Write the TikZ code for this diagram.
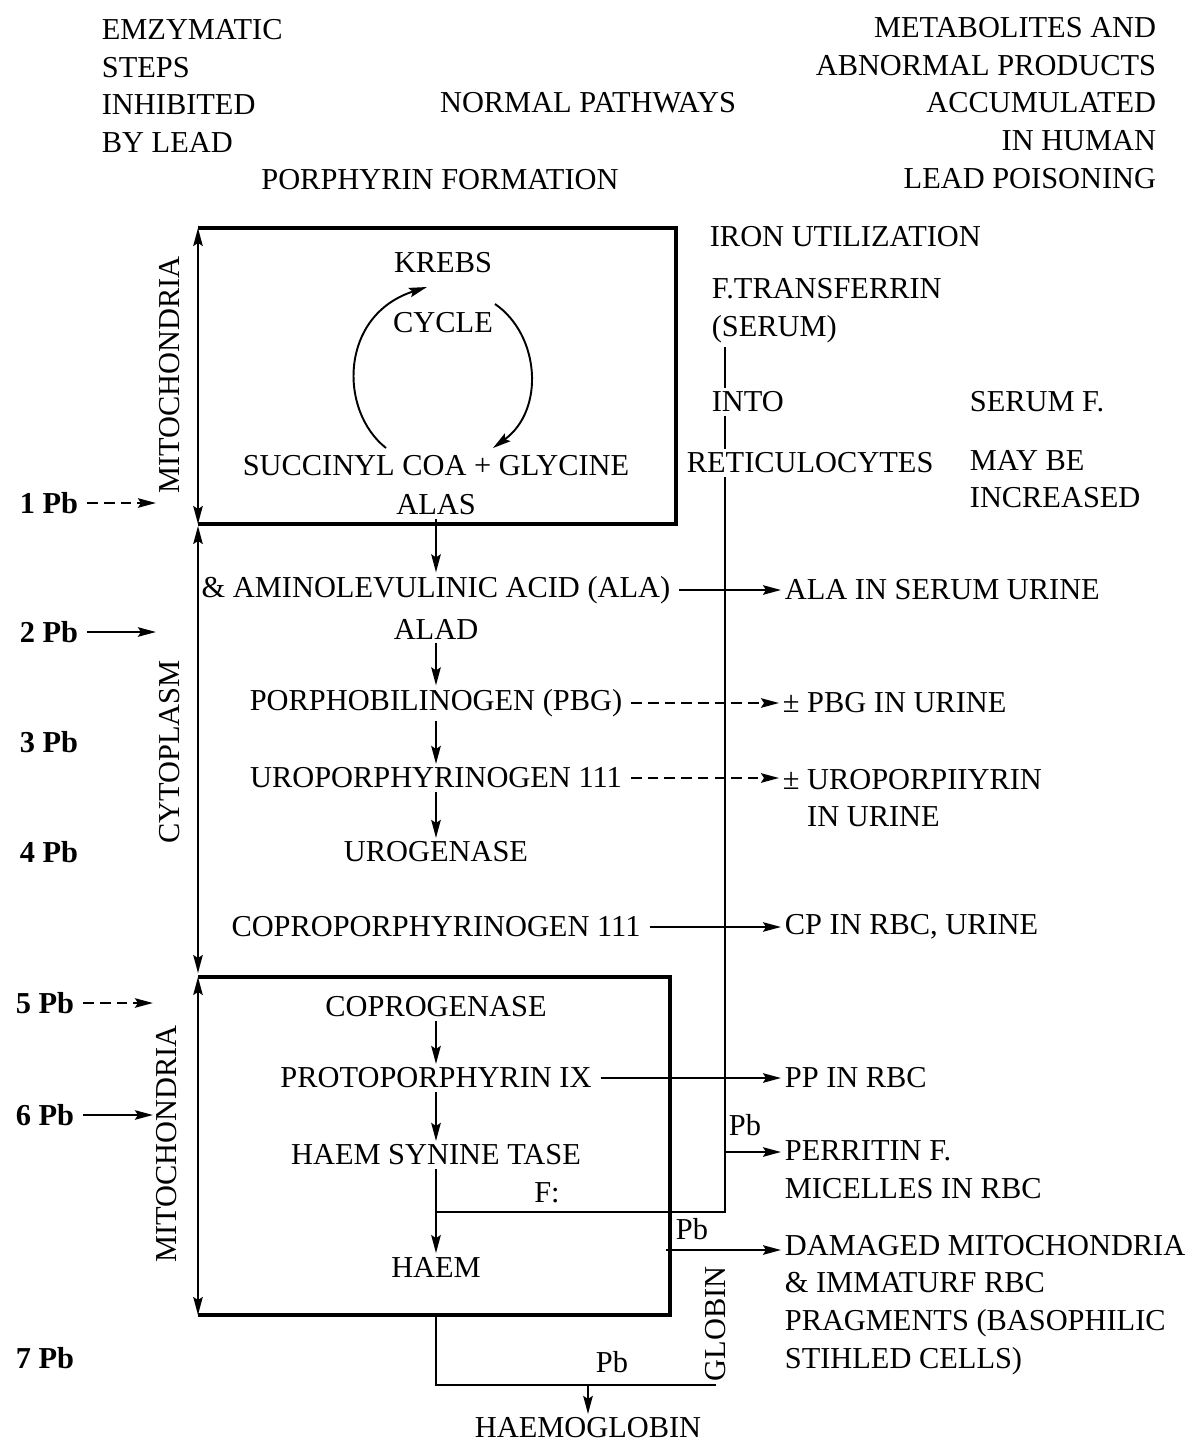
\documentclass[tikz,border=0pt]{standalone}
\usepackage{fontspec}
\setmainfont{Liberation Serif}
\usetikzlibrary{arrows.meta,positioning,calc}

\begin{document}
\begin{tikzpicture}[
  x=0.02cm, y=-0.02cm,
  font=\fontsize{17.3}{21.5}\selectfont,
  every node/.style={inner sep=2pt},
  lbl/.style={anchor=west,align=left},
  rlbl/.style={anchor=east,align=right},
  side/.style={rotate=90},
  pb/.style={anchor=west,font=\fontsize{17.3}{21.5}\selectfont\bfseries},
  wall/.style={line width=1.9pt},
  link/.style={line width=1.1pt},
  arr/.style={link,-{Stealth[length=3.6mm,width=1.9mm,inset=0.6mm]}},
  darr/.style={arr,dash pattern=on 6pt off 3.5pt},
  span/.style={line width=1pt,
               {Stealth[length=3.6mm,width=1.9mm,inset=0.6mm]}-{Stealth[length=3.6mm,width=1.9mm,inset=0.6mm]}}
]
\def\midX{436}
\def\outX{781}
\useasboundingbox (0,0) rectangle (1188,1443);

% --- Headings
\node[lbl]  (enz)   at (98,86)    {EMZYMATIC\\STEPS\\INHIBITED\\BY LEAD};
\node       (norm)  at (588,103)  {NORMAL PATHWAYS};
\node       (pform) at (440,180)  {PORPHYRIN FORMATION};
\node[rlbl] (metab) at (1160,103) {METABOLITES AND\\ABNORMAL PRODUCTS\\ACCUMULATED\\IN HUMAN\\LEAD POISONING};

% --- Top mitochondrion
\coordinate (mAnw) at (198,228);
\coordinate (mAse) at (676,524);
\draw[wall] (mAnw) -- (mAnw -| mAse) -- (mAse) -- (mAse -| mAnw);
\draw[span] (mAnw) -- (mAnw |- mAse);
\node[side] (mitoA) at (170,375) {MITOCHONDRIA};

\node (krebs) at (443,263) {KREBS};
\node (cycle) at (443,323) {CYCLE};
\node (succ)  at (\midX,466) {SUCCINYL COA + GLYCINE};
\node (alas)  at (\midX,505) {ALAS};
\coordinate (kcLa) at (386,448);
\coordinate (kcLb) at (427,287);
\coordinate (kcRa) at (495,304);
\coordinate (kcRb) at (493,448);
\draw[arr] (kcLa) .. controls (338,410) and (340,315) .. (kcLb);
\draw[arr] (kcRa) .. controls (540,335) and (545,410) .. (kcRb);

% --- Cytoplasm
\draw[span] (198,526) coordinate (cyTop) -- (198,973) coordinate (cyBot);
\node[side] (cyto) at (170,752) {CYTOPLASM};

\node (ala)   at (\midX,590) {\& AMINOLEVULINIC ACID (ALA)};
\node (alad)  at (\midX,629) {ALAD};
\node (pbg)   at (\midX,703) {PORPHOBILINOGEN (PBG)};
\node (uro)   at (\midX,778) {UROPORPHYRINOGEN 111};
\node (urog)  at (\midX,852) {UROGENASE};
\node (copro) at (\midX,927) {COPROPORPHYRINOGEN 111};

\draw[arr] (alas.south) -- (ala.north);
\draw[arr] (alad.south) -- (pbg.north);
\draw[arr] (pbg.south)  -- (uro.north);
\draw[arr] (uro.south)  -- (urog.north);

% --- Metabolites (right)
\node[lbl] (alaOut) at (\outX,590) {ALA IN SERUM URINE};
\node[lbl] (pbgOut) at (\outX-2,703) {± PBG IN URINE};
\node[lbl] (uroOut) at (\outX-2,798) {± UROPORPIIYRIN\\\hphantom{± }IN URINE};
\node[lbl] (cpOut)  at (\outX,927) {CP IN RBC, URINE};
\draw[arr,shorten <=3pt]  (ala.east)   -- (alaOut.west);
\draw[darr,shorten <=3pt] (pbg.east)   -- (pbgOut.west);
\draw[darr,shorten <=3pt] (uro.east)   -- (uro.east -| uroOut.west);
\draw[arr,shorten <=3pt]  (copro.east) -- (cpOut.west);

% --- Iron utilization
\coordinate (ironX) at (725,0);
\node[lbl] (ironU)  at (706,237) {IRON UTILIZATION};
\node[lbl] (ftrans) at (708,311) {F.TRANSFERRIN\\(SERUM)};
\node[lbl] (into)   at (708,402) {INTO};
\node[lbl] (retic)  at (683,463) {RETICULOCYTES};
\node[lbl] (serF)   at (966,402) {SERUM F.};
\node[lbl] (maybe)  at (966,479) {MAY BE\\INCREASED};
\draw[link] (ftrans.south -| ironX) -- (into.north -| ironX);
\draw[link] (into.south -| ironX) -- (retic.north -| ironX);

% --- Bottom mitochondrion
\coordinate (mBnw) at (198,977);
\coordinate (mBse) at (670,1315);
\draw[wall] (mBnw) -- (mBnw -| mBse) -- (mBse) -- (mBse -| mBnw);
\draw[span] (mBnw) -- (mBnw |- mBse);
\node[side] (mitoB) at (167,1144) {MITOCHONDRIA};

\node (coprog) at (\midX,1007) {COPROGENASE};
\node (proto)  at (\midX,1078) {PROTOPORPHYRIN IX};
\node (hsyn)   at (\midX,1155) {HAEM SYNINE TASE};
\node (haem)   at (\midX,1267) {HAEM};
\draw[arr] (coprog.south) -- (proto.north);
\draw[arr] (proto.south)  -- (hsyn.north);
\draw[arr] (hsyn.south)   -- (haem.north);

\coordinate (ironBend) at (725,1212);
\draw[link] (retic.south -| ironX) -- (ironBend) -- (ironBend -| hsyn.south);
\node (fLbl) at (547,1193) {F:};

\node[lbl] (ppOut)  at (\outX,1078) {PP IN RBC};
\node[lbl] (ferOut) at (\outX,1170) {PERRITIN F.\\MICELLES IN RBC};
\node[lbl] (dmgOut) at (\outX,1305) {DAMAGED MITOCHONDRIA\\\& IMMATURF RBC\\PRAGMENTS (BASOPHILIC\\STIHLED CELLS)};
\draw[arr,shorten <=3pt] (proto.east) -- (ppOut.west);
\coordinate (ferTap) at (725,1152);
\draw[arr] (ferTap) -- (ferTap -| ferOut.west);
\node (pbFer) at (745,1125) {Pb};
\coordinate (dmgTap) at (666,1250);
\draw[arr] (dmgTap) -- (dmgTap -| dmgOut.west);
\node (pbDmg) at (692,1229) {Pb};

% --- Haemoglobin
\node[side,anchor=west] (globin) at (716,1385) {GLOBIN};
\draw[link] (haem.south |- mBse) |- (globin.west);
\coordinate (hgTap) at (588,1385);
\node (hglob) at (588,1428) {HAEMOGLOBIN};
\draw[arr] (hgTap) -- (hglob.north);
\node (pbHg) at (612,1362) {Pb};

% --- Lead entry points
\node[pb] (pb1) at (16,503)  {1 Pb};
\node[pb] (pb2) at (16,632)  {2 Pb};
\node[pb] (pb3) at (16,742)  {3 Pb};
\node[pb] (pb4) at (16,852)  {4 Pb};
\node[pb] (pb5) at (12,1003) {5 Pb};
\node[pb] (pb6) at (12,1115) {6 Pb};
\node[pb] (pb7) at (12,1358) {7 Pb};
\draw[darr,shorten <=3pt] (pb1.east) -- (pb1.east -| mitoA.north);
\draw[arr,shorten <=3pt]  (pb2.east) -- (pb2.east -| cyto.north);
\draw[darr,shorten <=3pt] (pb5.east) -- (pb5.east -| mitoB.north);
\draw[arr,shorten <=3pt]  (pb6.east) -- (pb6.east -| mitoB.north);
\end{tikzpicture}
\end{document}
